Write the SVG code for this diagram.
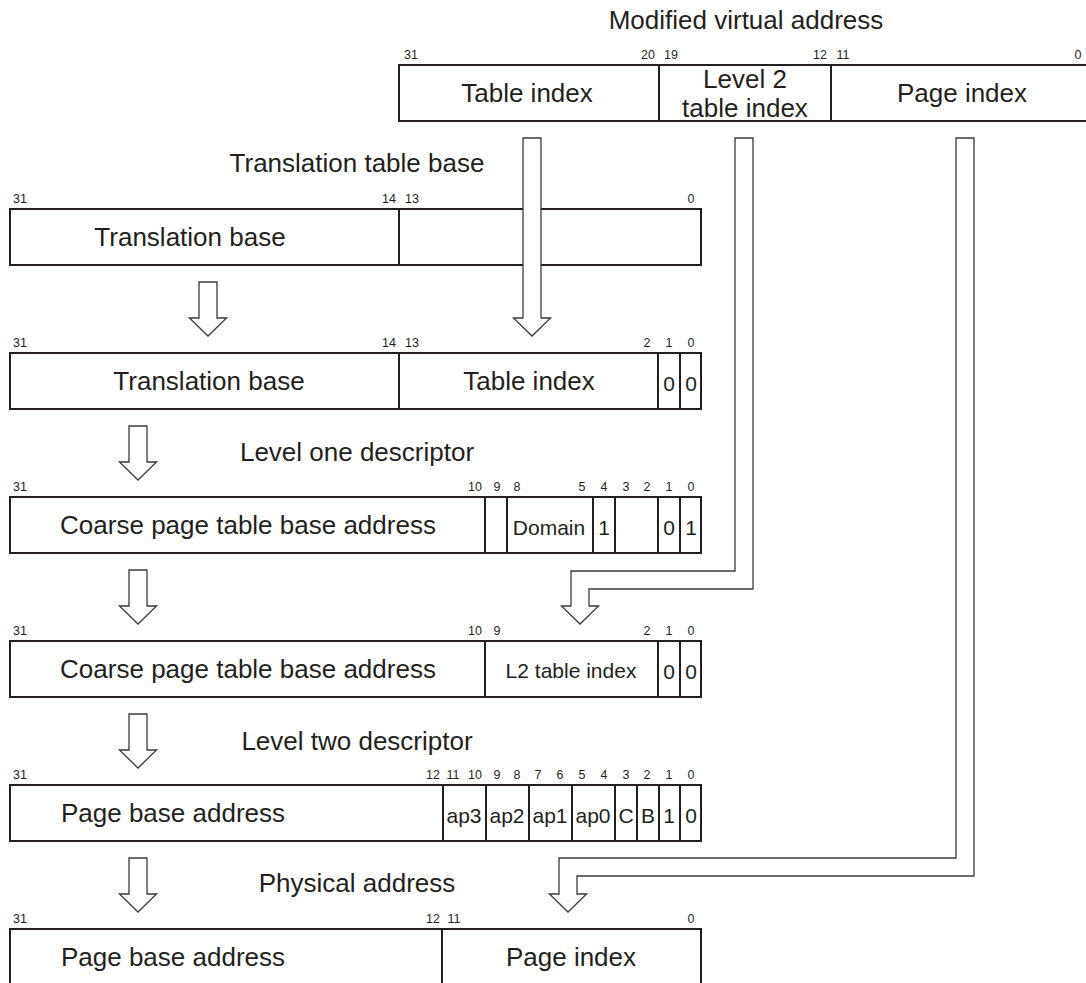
<svg xmlns="http://www.w3.org/2000/svg" width="1086" height="983" viewBox="0 0 1086 983">
<style>
.bg{fill:#ffffff}
.box{fill:#ffffff;stroke:#231f20;stroke-width:2}
.div{stroke:#231f20;stroke-width:2}
.arrow{fill:#ffffff;stroke:#3a3a3a;stroke-width:1.3;stroke-linejoin:miter}
text{font-family:"Liberation Sans",Arial,sans-serif;fill:#231f20}
.t{font-size:26px;text-anchor:middle}
.c{font-size:21px;text-anchor:middle}
.b{font-size:12.5px;text-anchor:middle}
</style>
<rect class="bg" x="0" y="0" width="1086" height="983"/>

<g id="modified-virtual-address">
<text class="t" x="746" y="29">Modified virtual address</text>
<text class="b" x="411" y="59">31</text>
<text class="b" x="648" y="59">20</text>
<text class="b" x="671" y="59">19</text>
<text class="b" x="820" y="59">12</text>
<text class="b" x="843" y="59">11</text>
<text class="b" x="1078" y="59">0</text>
<rect class="box" x="399" y="65" width="700" height="56"/>
<line class="div" x1="659" y1="65" x2="659" y2="121"/>
<line class="div" x1="831" y1="65" x2="831" y2="121"/>
<text class="t" x="527" y="102">Table index</text>
<text class="t" x="745" y="88">Level 2</text>
<text class="t" x="745" y="117">table index</text>
<text class="t" x="962" y="102">Page index</text>
</g>

<g id="translation-table-base">
<text class="t" x="357" y="172">Translation table base</text>
<text class="b" x="20" y="203">31</text>
<text class="b" x="389" y="203">14</text>
<text class="b" x="412" y="203">13</text>
<text class="b" x="691" y="203">0</text>
<rect class="box" x="10" y="209" width="691" height="56"/>
<line class="div" x1="399" y1="209" x2="399" y2="265"/>
<text class="t" x="190" y="246">Translation base</text>
</g>

<g id="first-level-address">
<text class="b" x="20" y="347">31</text>
<text class="b" x="389" y="347">14</text>
<text class="b" x="412" y="347">13</text>
<text class="b" x="647" y="347">2</text>
<text class="b" x="669" y="347">1</text>
<text class="b" x="691" y="347">0</text>
<rect class="box" x="10" y="353" width="691" height="56"/>
<line class="div" x1="399" y1="353" x2="399" y2="409"/>
<line class="div" x1="658" y1="353" x2="658" y2="409"/>
<line class="div" x1="680" y1="353" x2="680" y2="409"/>
<text class="t" x="209" y="390">Translation base</text>
<text class="t" x="529" y="390">Table index</text>
<text class="c" x="669" y="391">0</text>
<text class="c" x="691" y="391">0</text>
</g>

<g id="level-one-descriptor">
<text class="t" x="357" y="461">Level one descriptor</text>
<text class="b" x="20" y="491">31</text>
<text class="b" x="475" y="491">10</text>
<text class="b" x="497" y="491">9</text>
<text class="b" x="517" y="491">8</text>
<text class="b" x="582" y="491">5</text>
<text class="b" x="604" y="491">4</text>
<text class="b" x="626" y="491">3</text>
<text class="b" x="647" y="491">2</text>
<text class="b" x="669" y="491">1</text>
<text class="b" x="691" y="491">0</text>
<rect class="box" x="10" y="497" width="691" height="56"/>
<line class="div" x1="485" y1="497" x2="485" y2="553"/>
<line class="div" x1="507" y1="497" x2="507" y2="553"/>
<line class="div" x1="593" y1="497" x2="593" y2="553"/>
<line class="div" x1="615" y1="497" x2="615" y2="553"/>
<line class="div" x1="658" y1="497" x2="658" y2="553"/>
<line class="div" x1="680" y1="497" x2="680" y2="553"/>
<text class="t" x="248" y="534">Coarse page table base address</text>
<text class="c" x="549" y="535">Domain</text>
<text class="c" x="604" y="535">1</text>
<text class="c" x="669" y="535">0</text>
<text class="c" x="691" y="535">1</text>
</g>

<g id="second-level-address">
<text class="b" x="20" y="635">31</text>
<text class="b" x="475" y="635">10</text>
<text class="b" x="497" y="635">9</text>
<text class="b" x="647" y="635">2</text>
<text class="b" x="669" y="635">1</text>
<text class="b" x="691" y="635">0</text>
<rect class="box" x="10" y="641" width="691" height="56"/>
<line class="div" x1="485" y1="641" x2="485" y2="697"/>
<line class="div" x1="658" y1="641" x2="658" y2="697"/>
<line class="div" x1="680" y1="641" x2="680" y2="697"/>
<text class="t" x="248" y="678">Coarse page table base address</text>
<text class="c" x="571" y="678">L2 table index</text>
<text class="c" x="669" y="679">0</text>
<text class="c" x="691" y="679">0</text>
</g>

<g id="level-two-descriptor">
<text class="t" x="357" y="750">Level two descriptor</text>
<text class="b" x="20" y="779">31</text>
<text class="b" x="433" y="779">12</text>
<text class="b" x="453" y="779">11</text>
<text class="b" x="475" y="779">10</text>
<text class="b" x="497" y="779">9</text>
<text class="b" x="517" y="779">8</text>
<text class="b" x="538" y="779">7</text>
<text class="b" x="560" y="779">6</text>
<text class="b" x="582" y="779">5</text>
<text class="b" x="604" y="779">4</text>
<text class="b" x="626" y="779">3</text>
<text class="b" x="647" y="779">2</text>
<text class="b" x="669" y="779">1</text>
<text class="b" x="691" y="779">0</text>
<rect class="box" x="10" y="785" width="691" height="56"/>
<line class="div" x1="443" y1="785" x2="443" y2="841"/>
<line class="div" x1="486" y1="785" x2="486" y2="841"/>
<line class="div" x1="529" y1="785" x2="529" y2="841"/>
<line class="div" x1="572" y1="785" x2="572" y2="841"/>
<line class="div" x1="615" y1="785" x2="615" y2="841"/>
<line class="div" x1="637" y1="785" x2="637" y2="841"/>
<line class="div" x1="659" y1="785" x2="659" y2="841"/>
<line class="div" x1="680" y1="785" x2="680" y2="841"/>
<text class="t" x="173" y="822">Page base address</text>
<text class="c" x="464" y="823">ap3</text>
<text class="c" x="507" y="823">ap2</text>
<text class="c" x="550" y="823">ap1</text>
<text class="c" x="593" y="823">ap0</text>
<text class="c" x="626" y="823">C</text>
<text class="c" x="648" y="823">B</text>
<text class="c" x="669" y="823">1</text>
<text class="c" x="691" y="823">0</text>
</g>

<g id="physical-address">
<text class="t" x="357" y="892">Physical address</text>
<text class="b" x="20" y="923">31</text>
<text class="b" x="433" y="923">12</text>
<text class="b" x="454" y="923">11</text>
<text class="b" x="691" y="923">0</text>
<rect class="box" x="10" y="929" width="691" height="56"/>
<line class="div" x1="442" y1="929" x2="442" y2="985"/>
<text class="t" x="173" y="966">Page base address</text>
<text class="t" x="571" y="966">Page index</text>
</g>

<g id="connectors">
<path class="arrow" d="M199,282 L217,282 L217,318 L226.5,318 L208,336 L189.5,318 L199,318 Z"/>
<path class="arrow" d="M129,426 L147,426 L147,462 L156.5,462 L138,480 L119.5,462 L129,462 Z"/>
<path class="arrow" d="M129,570 L147,570 L147,606 L156.5,606 L138,624 L119.5,606 L129,606 Z"/>
<path class="arrow" d="M129,714 L147,714 L147,750 L156.5,750 L138,768 L119.5,750 L129,750 Z"/>
<path class="arrow" d="M129,858 L147,858 L147,894 L156.5,894 L138,912 L119.5,894 L129,894 Z"/>
<path class="arrow" d="M523,138 L541,138 L541,318 L550.5,318 L532,336 L513.5,318 L523,318 Z"/>
<path class="arrow" d="M735,138 L735,571 L571,571 L571,606 L561.5,606 L580,624 L598.5,606 L589,606 L589,589 L753,589 L753,138 Z"/>
<path class="arrow" d="M956,138 L956,858 L559,858 L559,894 L549.5,894 L568,912 L586.5,894 L577,894 L577,876 L974,876 L974,138 Z"/>
</g>
</svg>
